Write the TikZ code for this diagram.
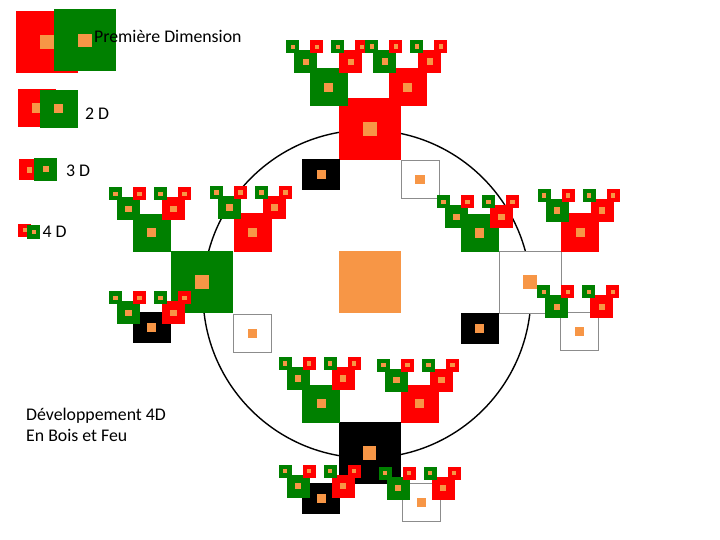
\documentclass[tikz,border=0pt]{standalone}
\usepackage{fontspec}
\setmainfont{Carlito}
\usetikzlibrary{calc}
\definecolor{vert}{HTML}{008000}
\definecolor{rouge}{HTML}{FF0000}
\definecolor{ocre}{HTML}{F79646}
\tikzset{cell/.style={minimum size=#1,inner sep=0pt,outer sep=0pt}}
\tikzset{core/.style={fill=ocre,minimum size=0.2*#1+1.5,inner sep=0pt,outer sep=0pt}}
\tikzset{bois/.style={fill=vert}}
\tikzset{feu/.style={fill=rouge}}
\tikzset{eau/.style={fill=black}}
\tikzset{metal/.style={fill=white,draw=black!45,line width=0.8pt}}
\tikzset{flat/.style={minimum height=31}}
\tikzset{legend/.style={inner sep=0pt,anchor=base west,font=\fontsize{17.8}{21.7}\selectfont}}
\newcommand{\tile}[4]{
    \node[cell=#4,#2] (#1) at (#3) {};
    \node[core=#4] (#1-c) at (#1) {};
}
\newcommand{\twig}[2]{
    \tile{#1-b}{bois}{$(#1)+(-23,#2)$}{23}
    \tile{#1-f}{feu}{$(#1)+(22,#2)$}{23}
    \tile{#1-bb}{bois}{$(#1-b)+(-13,-15)$}{13}
    \tile{#1-bf}{feu}{$(#1-b)+(11,-15)$}{13}
    \tile{#1-fb}{bois}{$(#1-f)+(-13,-15)$}{13}
    \tile{#1-ff}{feu}{$(#1-f)+(11,-15)$}{13}
}
\begin{document}
\begin{tikzpicture}[x=1pt,y=-1pt]
        \useasboundingbox (0,0) rectangle (720,540);

        % legend
        \tile{l1f}{feu}{47.3,41.7}{62}
        \tile{l1b}{bois}{84.7,40.5}{62}
        \tile{l2f}{feu}{37,108}{38}
        \tile{l2b}{bois}{58.8,108.8}{38}
        \tile{l3f}{feu}{29.5,170}{21}
        \tile{l3b}{bois}{45.7,169.3}{23}
        \tile{l4f}{feu}{24.5,230.3}{12.5}
        \tile{l4b}{bois}{33.7,232.2}{13.5}
        \node[legend] (d1) at (94,42.3) {Première Dimension};
        \node[legend] (d2) at (85,120) {2 D};
        \node[legend] (d3) at (66,176.7) {3 D};
        \node[legend] (d4) at (42.5,237.3) {4 D};
        \node[legend,align=left] (dev) at (26,441.7)
            {Développement 4D\\En Bois et Feu};

        \node[draw,circle,line width=1.4pt,minimum size=328,inner sep=0pt] (ring) at (367,294) {};
        \node[cell=62,fill=ocre] (ctr) at (369.7,282.2) {};

        % top
        \tile{top}{feu}{369.7,129.3}{62}
        \tile{top-ul}{bois}{328.8,87.2}{38}
        \tile{top-ur}{feu}{407.6,87.5}{38}
        \tile{top-ll}{eau,flat}{321.2,174.7}{38}
        \tile{top-lr}{metal}{420,179.5}{38}
        \twig{top-ul}{-25.5}
        \twig{top-ur}{-26}

        % left
        \tile{lft}{bois}{202,282}{62}
        \tile{lft-ul}{bois}{151.5,232.8}{38}
        \tile{lft-ur}{feu}{252.5,232.5}{38}
        \tile{lft-ll}{eau,flat}{151.5,327.8}{38}
        \tile{lft-lr}{metal}{252.2,333.3}{38}
        \twig{lft-ul}{-24}
        \twig{lft-ur}{-25}
        \twig{lft-ll}{-15}

        % right
        \tile{rgt}{metal}{530,282.2}{62}
        \tile{rgt-ul}{bois}{479.5,233}{38}
        \tile{rgt-ur}{feu}{580.3,232.5}{38}
        \tile{rgt-ll}{eau,flat}{479.5,328.3}{38}
        \tile{rgt-lr}{metal}{579.8,331.3}{38}
        \twig{rgt-ul}{-16}
        \twig{rgt-ur}{-22}
        \twig{rgt-lr}{-24.5}

        % bottom
        \tile{bot}{eau}{369.5,453}{62}
        \tile{bot-ul}{bois}{321.3,403.5}{38}
        \tile{bot-ur}{feu}{419.5,403.5}{38}
        \tile{bot-ll}{eau,flat}{321.3,498.7}{38}
        \tile{bot-lr}{metal}{421.2,502.5}{38}
        \twig{bot-ul}{-25}
        \twig{bot-ur}{-23.5}
        \twig{bot-ll}{-12.5}
        \twig{bot-lr}{-14.5}
\end{tikzpicture}
\end{document}
